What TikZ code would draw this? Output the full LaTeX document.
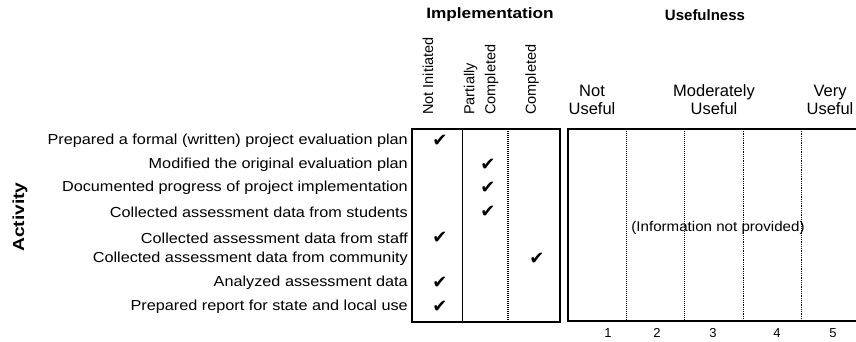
\documentclass[tikz,border=0pt]{standalone}
\usepackage{graphicx}
\usepackage{fontspec}
\setmainfont{Liberation Sans}
\newfontfamily\symfont{DejaVu Sans}
\newcommand\hsc[2]{\scalebox{#1}[1]{#2}}
\begin{document}
\begin{tikzpicture}[x=1pt,y=-1pt,
  rowlab/.style={anchor=east,font=\fontsize{14.5}{15}\selectfont,inner sep=0pt},
  hdr/.style={font=\bfseries\fontsize{15}{16}\selectfont,inner sep=0pt},
  collab/.style={font=\fontsize{16.5}{18}\selectfont,inner sep=0pt,align=center},
  rotlab/.style={rotate=90,anchor=west,font=\fontsize{14.5}{21}\selectfont,inner sep=0pt,align=left},
  chk/.style={font=\symfont\fontsize{18}{18}\selectfont,inner sep=0pt},
  boxline/.style={line width=2.6pt},
  gridline/.style={line width=1pt,densely dotted},
  numlab/.style={font=\fontsize{13}{13}\selectfont,inner sep=0pt}]
\useasboundingbox (0,0) rectangle (856,342);
% headers
\node[hdr] (impl) at (490,15) {\hsc{1.15}{Implementation}};
\node[hdr] (usef) at (705,15) {Usefulness};
\node[rotlab] (ni) at (428,115) {Not Initiated};
\node[rotlab] (pc) at (481,115) {Partially\\Completed};
\node[rotlab] (cp) at (532,115) {Completed};
\node[collab] (nu) at (592,100) {Not\\Useful};
\node[collab] (mu) at (714,100) {Moderately\\Useful};
\node[collab] (vu) at (830,100) {Very\\Useful};
% Activity
\node[font=\bfseries\fontsize{16}{16}\selectfont,rotate=90,inner sep=0pt] (act) at (20,217) {\hsc{1.2}{Activity}};
% row labels
\node[rowlab] (r1) at (408,141) {\hsc{1.12}{Prepared a formal (written) project evaluation plan}};
\node[rowlab] (r2) at (408,165) {\hsc{1.12}{Modified the original evaluation plan}};
\node[rowlab] (r3) at (408,188) {\hsc{1.12}{Documented progress of project implementation}};
\node[rowlab] (r4) at (408,212) {\hsc{1.12}{Collected assessment data from students}};
\node[rowlab] (r5) at (408,238) {\hsc{1.12}{Collected assessment data from staff}};
\node[rowlab] (r6) at (408,259) {\hsc{1.12}{Collected assessment data from community}};
\node[rowlab] (r7) at (408,283) {\hsc{1.12}{Analyzed assessment data}};
\node[rowlab] (r8) at (408,307) {\hsc{1.12}{Prepared report for state and local use}};
% left box
\draw[boxline] (412,129) rectangle (560,322);
\draw[line width=0.9pt] (462,129) -- (462,322);
\draw[gridline,line width=1.2pt] (508,129) -- (508,322);
% checks
\node[chk] (c1) at (440,141) {✔};
\node[chk] (c2) at (488,165) {✔};
\node[chk] (c3) at (488,188) {✔};
\node[chk] (c4) at (488,212) {✔};
\node[chk] (c5) at (440,238) {✔};
\node[chk] (c6) at (537,259) {✔};
\node[chk] (c7) at (440,283) {✔};
\node[chk] (c8) at (440,307) {✔};
% right box
\draw[boxline] (868,129) -- (568,129) -- (568,321) -- (868,321);
\draw[gridline] (626,129) -- (626,321);
\draw[gridline] (684,129) -- (684,321);
\draw[line width=0.8pt,densely dotted] (743,129) -- (743,321);
\draw[line width=0.8pt,densely dotted] (801,129) -- (801,321);
\node[font=\fontsize{14}{15}\selectfont,inner sep=0.5pt] (inp) at (718,228) {\hsc{1.08}{(Information not provided)}};
% numbers
\node[numlab] (n1) at (608,333) {1};
\node[numlab] (n2) at (657,333) {2};
\node[numlab] (n3) at (713,333) {3};
\node[numlab] (n4) at (777,333) {4};
\node[numlab] (n5) at (833,333) {5};
\end{tikzpicture}
\end{document}
